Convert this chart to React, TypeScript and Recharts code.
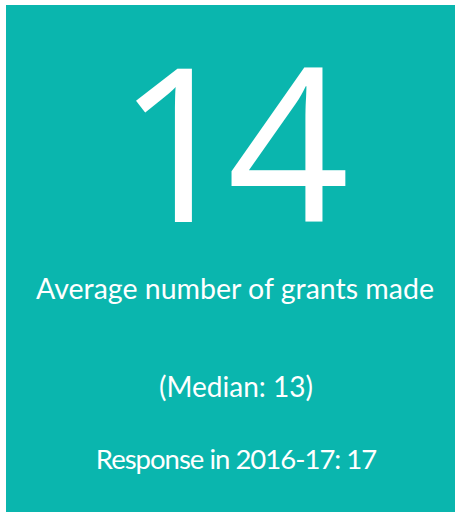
import React from "react";
import { Surface, Text } from "recharts";

const headlineValue = [14];
const headlineLabel = ["Average number of grants made"];
const medianValue = [13];
const previousYear = ["2016-17"];
const previousValue = [17];

const TEAL = "#0ab6ae";

export default function App() {
  return (
    <div style={{ position: "absolute", left: 0, top: 0, width: 457, height: 512, background: "#fff" }}>
      <Surface width={457} height={512} viewBox={{ x: 0, y: 0, width: 457, height: 512 }}>
        <rect x={6} y={5} width={449} height={507} fill={TEAL} />
        <Text
          x={227}
          y={222}
          textAnchor="middle"
          verticalAnchor="end"
          fill="#fff"
          style={{ fontFamily: "'Open Sans', sans-serif", fontSize: 214, fontWeight: 500, letterSpacing: -12 }}
        >
          {String(headlineValue[0])}
        </Text>
        <Text
          x={235}
          y={299}
          textAnchor="middle"
          verticalAnchor="end"
          fill="#fff"
          style={{ fontFamily: "Lato, sans-serif", fontSize: 28.5, fontWeight: 400 }}
        >
          {headlineLabel[0]}
        </Text>
        <Text
          x={236}
          y={397}
          textAnchor="middle"
          verticalAnchor="end"
          fill="#fff"
          style={{ fontFamily: "Lato, sans-serif", fontSize: 28, fontWeight: 400 }}
        >
          {`(Median: ${medianValue[0]})`}
        </Text>
        <Text
          x={236}
          y={469}
          textAnchor="middle"
          verticalAnchor="end"
          fill="#fff"
          style={{ fontFamily: "Lato, sans-serif", fontSize: 27.5, fontWeight: 400, letterSpacing: -1 }}
        >
          {`Response in ${previousYear[0]}: ${previousValue[0]}`}
        </Text>
      </Surface>
    </div>
  );
}
